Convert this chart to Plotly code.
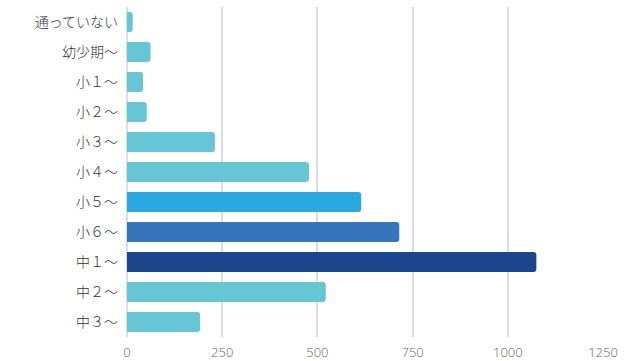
import plotly.graph_objects as go

categories = ["通っていない", "幼少期～", "小１～", "小２～", "小３～", "小４～",
              "小５～", "小６～", "中１～", "中２～", "中３～"]
values = [15, 62, 42, 52, 231, 478, 615, 715, 1075, 522, 192]
colors = ["#66c6d5", "#66c6d5", "#66c6d5", "#66c6d5", "#66c6d5", "#66c6d5",
          "#2aa8e0", "#3575bb", "#1b468e", "#66c6d5", "#66c6d5"]
x_ticks = [0, 250, 500, 750, 1000, 1250]

fig = go.Figure(go.Bar(
    y=categories, x=values, orientation="h",
    marker=dict(color=colors, line=dict(width=0)),
))
fig.update_layout(
    width=627, height=361,
    margin=dict(l=127, r=24, t=7, b=24),
    paper_bgcolor="white", plot_bgcolor="white",
    bargap=0.33, barcornerradius=3,
    showlegend=False,
    font=dict(family="Noto Sans CJK JP", color="#333333", size=13),
)
fig.update_xaxes(range=[0, 1250], tickvals=x_ticks, showgrid=True,
                 gridcolor="#dddddd", gridwidth=1.5,
                 zeroline=True, zerolinecolor="#dddddd", zerolinewidth=1.5,
                 tickfont=dict(color="#666666", size=13, family="Open Sans", weight=300),
                 ticks="", showline=False, automargin=False, ticklabelstandoff=6)
fig.update_yaxes(autorange="reversed", categoryorder="array", categoryarray=categories,
                 ticks="", ticklabelstandoff=8, showline=False, automargin=False,
                 tickfont=dict(color="#333333", size=14, weight=300))
fig.write_html("out.html", config={"displayModeBar": False},
               post_script="document.body.style.margin='0';document.body.style.overflow='hidden';")
